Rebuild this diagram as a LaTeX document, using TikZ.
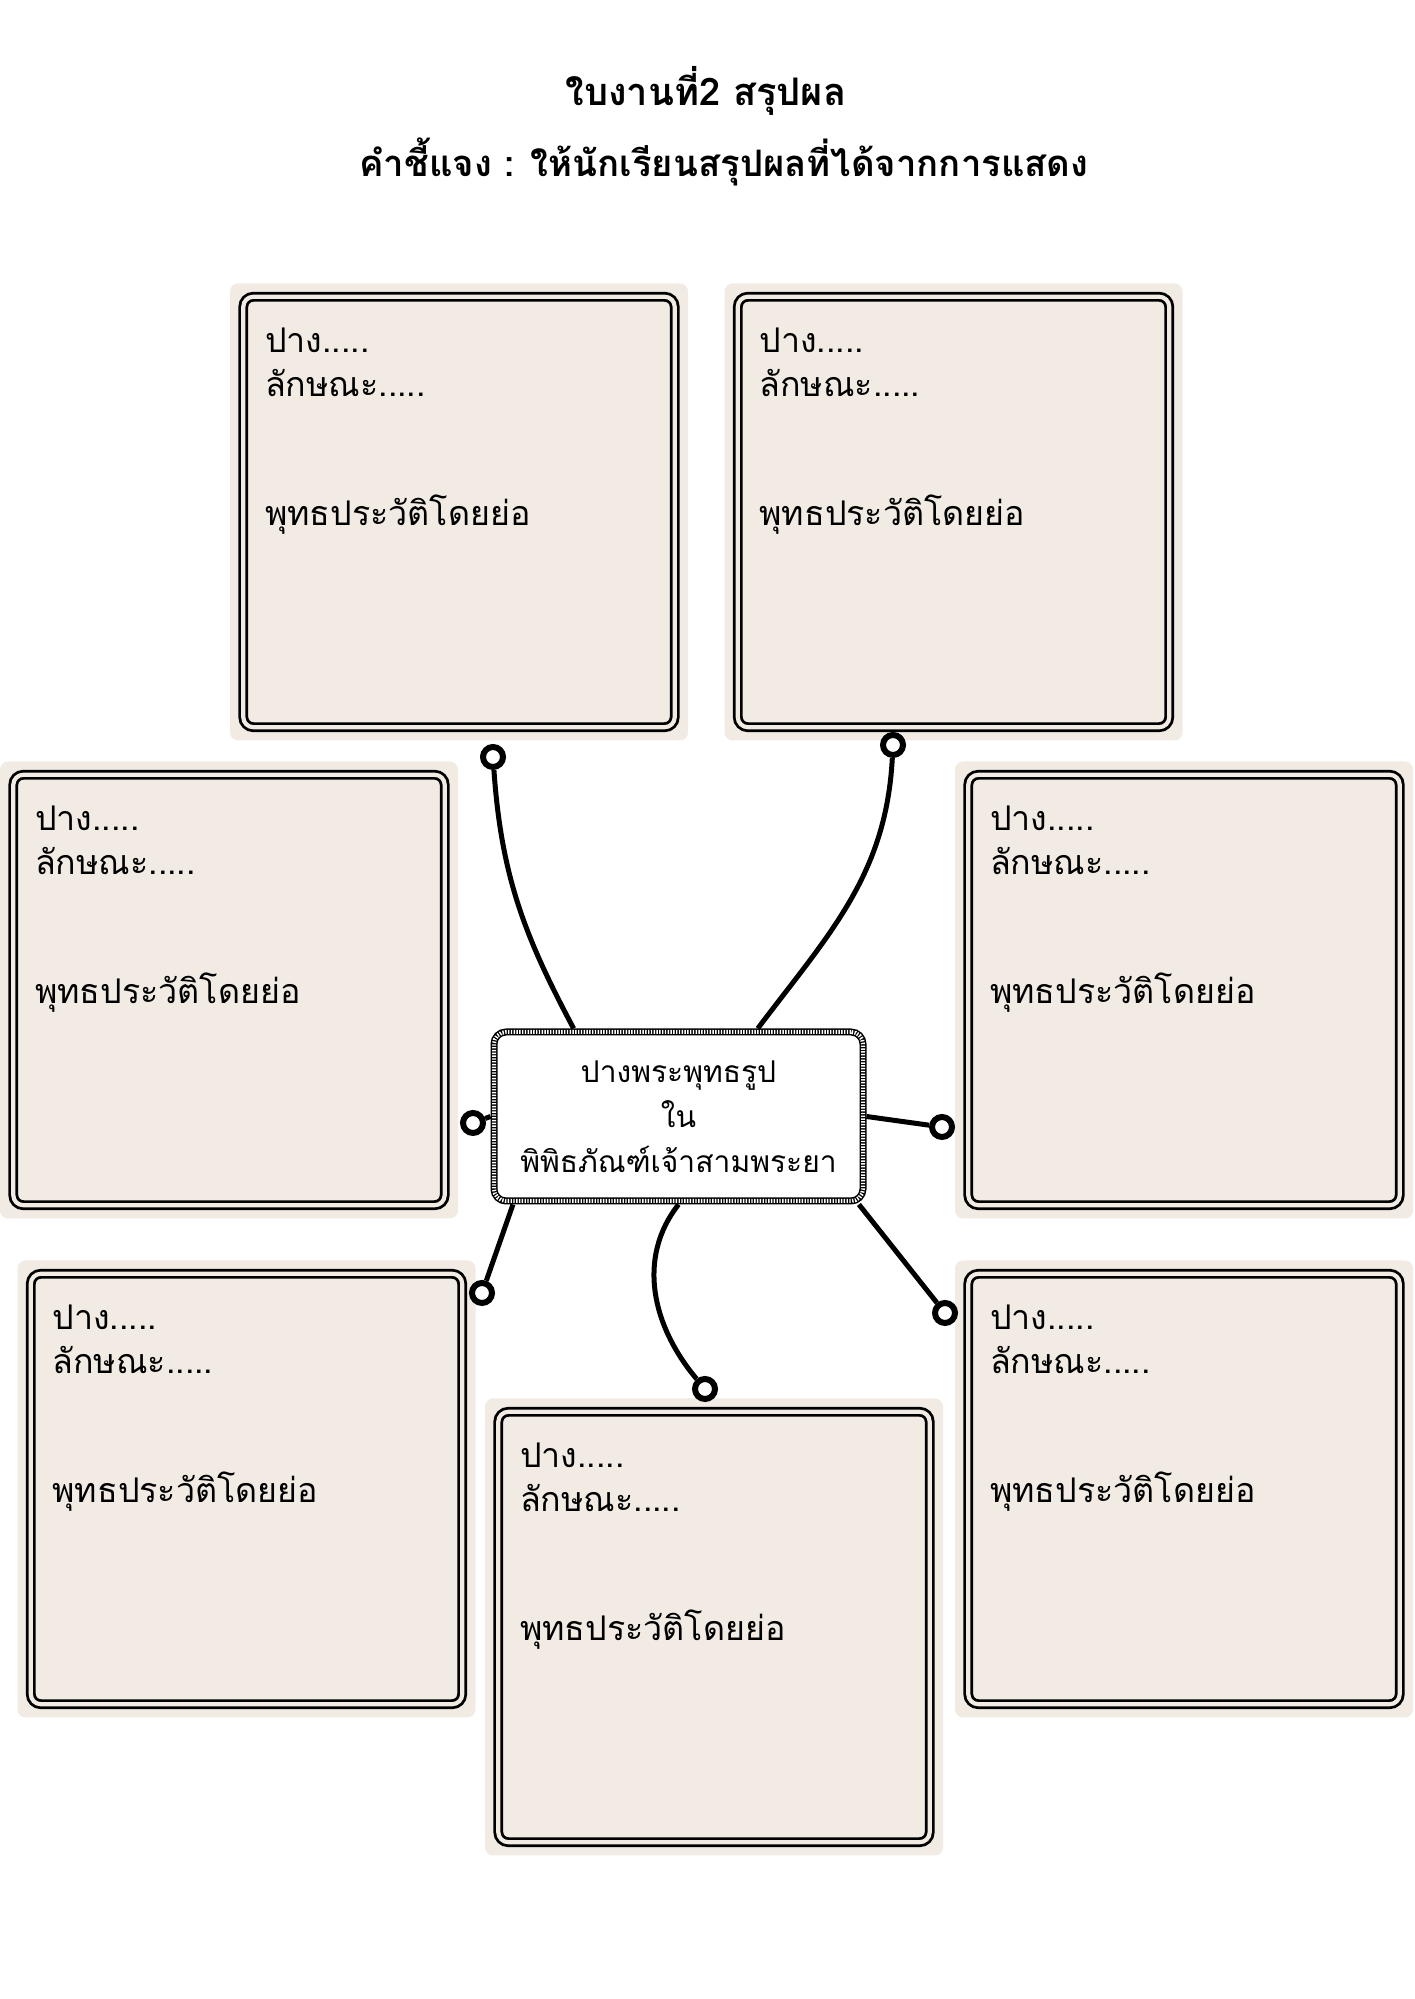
\documentclass[tikz,border=0pt]{standalone}
\usepackage{fontspec}
\newfontfamily\thaifont[Script=Thai]{Loma}
\usetikzlibrary{backgrounds}
\definecolor{panelbg}{RGB}{241,235,228}

\begin{document}
\begin{tikzpicture}[x=1pt,y=1pt]
\tikzset{panel/.style = {shape=rectangle,fill=panelbg,rounded corners=8pt,minimum width=458pt,minimum height=457pt,inner sep=0pt}}
\tikzset{frame/.style = {draw=black,line width=2.8pt,double=panelbg,double distance=4.2pt,rounded corners=10pt}}
\tikzset{entry/.style = {anchor=base west,inner sep=0pt,font=\thaifont\fontsize{34}{43}\selectfont}}
\tikzset{title/.style = {anchor=base,inner sep=0pt,font=\thaifont\bfseries\fontsize{38}{48}\selectfont}}
\tikzset{hub/.style = {shape=rectangle,fill=white,draw=black,line width=7pt,rounded corners=12pt,minimum width=369pt,minimum height=169pt,align=center,font=\thaifont\fontsize{30}{45}\selectfont,postaction={draw=white,line width=4pt,dash pattern=on 1.4pt off 1.4pt}}}
\tikzset{knob/.style = {shape=circle,draw=black,fill=white,line width=6pt,minimum size=20pt,inner sep=0pt}}
\tikzset{link/.style = {line width=5pt}}
\useasboundingbox (0,0) rectangle (1414,1999);
% heading
\node[title] (head) at (706,1893) {ใบงานที่2 สรุปผล};
\node[title,font=\thaifont\bfseries\fontsize{36.5}{48}\selectfont] (note) at (724,1822) {คำชี้แจง : ให้นักเรียนสรุปผลที่ได้จากการแสดง};
% the seven answer panels
\foreach \n/\x/\y in {ptl/459/1487, ptr/953.5/1487, pml/229/1009, pmr/1184/1009, pbl/246.5/510, pbr/1184/510, pbc/714/372} {
  \node[panel] (\n) at (\x,\y) {};
  \draw[frame] ([xshift=13.5pt,yshift=-13.5pt]\n.north west) rectangle ([xshift=-13.5pt,yshift=13.5pt]\n.south east);
  \node[entry] at ([xshift=35pt,yshift=-69pt]\n.north west) {ปาง.....};
  \node[entry] at ([xshift=35pt,yshift=-113pt]\n.north west) {ลักษณะ.....};
  \node[entry] at ([xshift=35pt,yshift=-242pt]\n.north west) {พุทธประวัติโดยย่อ};
}
% centre topic
\node[hub] (hub) at (678.5,882.5) {ปางพระพุทธรูป\\ใน\\พิพิธภัณฑ์เจ้าสามพระยา};
% end knobs
\node[knob] (kTL) at (493,1242) {};
\node[knob] (kTR) at (893,1254) {};
\node[knob] (kL) at (473,876) {};
\node[knob] (kR) at (942,872) {};
\node[knob] (kBL) at (482,706) {};
\node[knob] (kBC) at (705,610) {};
\node[knob] (kBR) at (945,686) {};
% links from the topic to the knobs
\begin{scope}[on background layer]
\draw[link] (kTL) to[out=-86,in=118] (hub.140);
\draw[link] (kTR) to[out=-93,in=53] (hub.48);
\draw[link] (hub.west) -- (kL);
\draw[link] (hub.east) -- (kR);
\draw[link] (hub.208) -- (kBL);
\draw[link] (hub.south) to[out=-128,in=130] (kBC);
\draw[link] (hub.334) -- (kBR);
\end{scope}
\end{tikzpicture}
\end{document}
